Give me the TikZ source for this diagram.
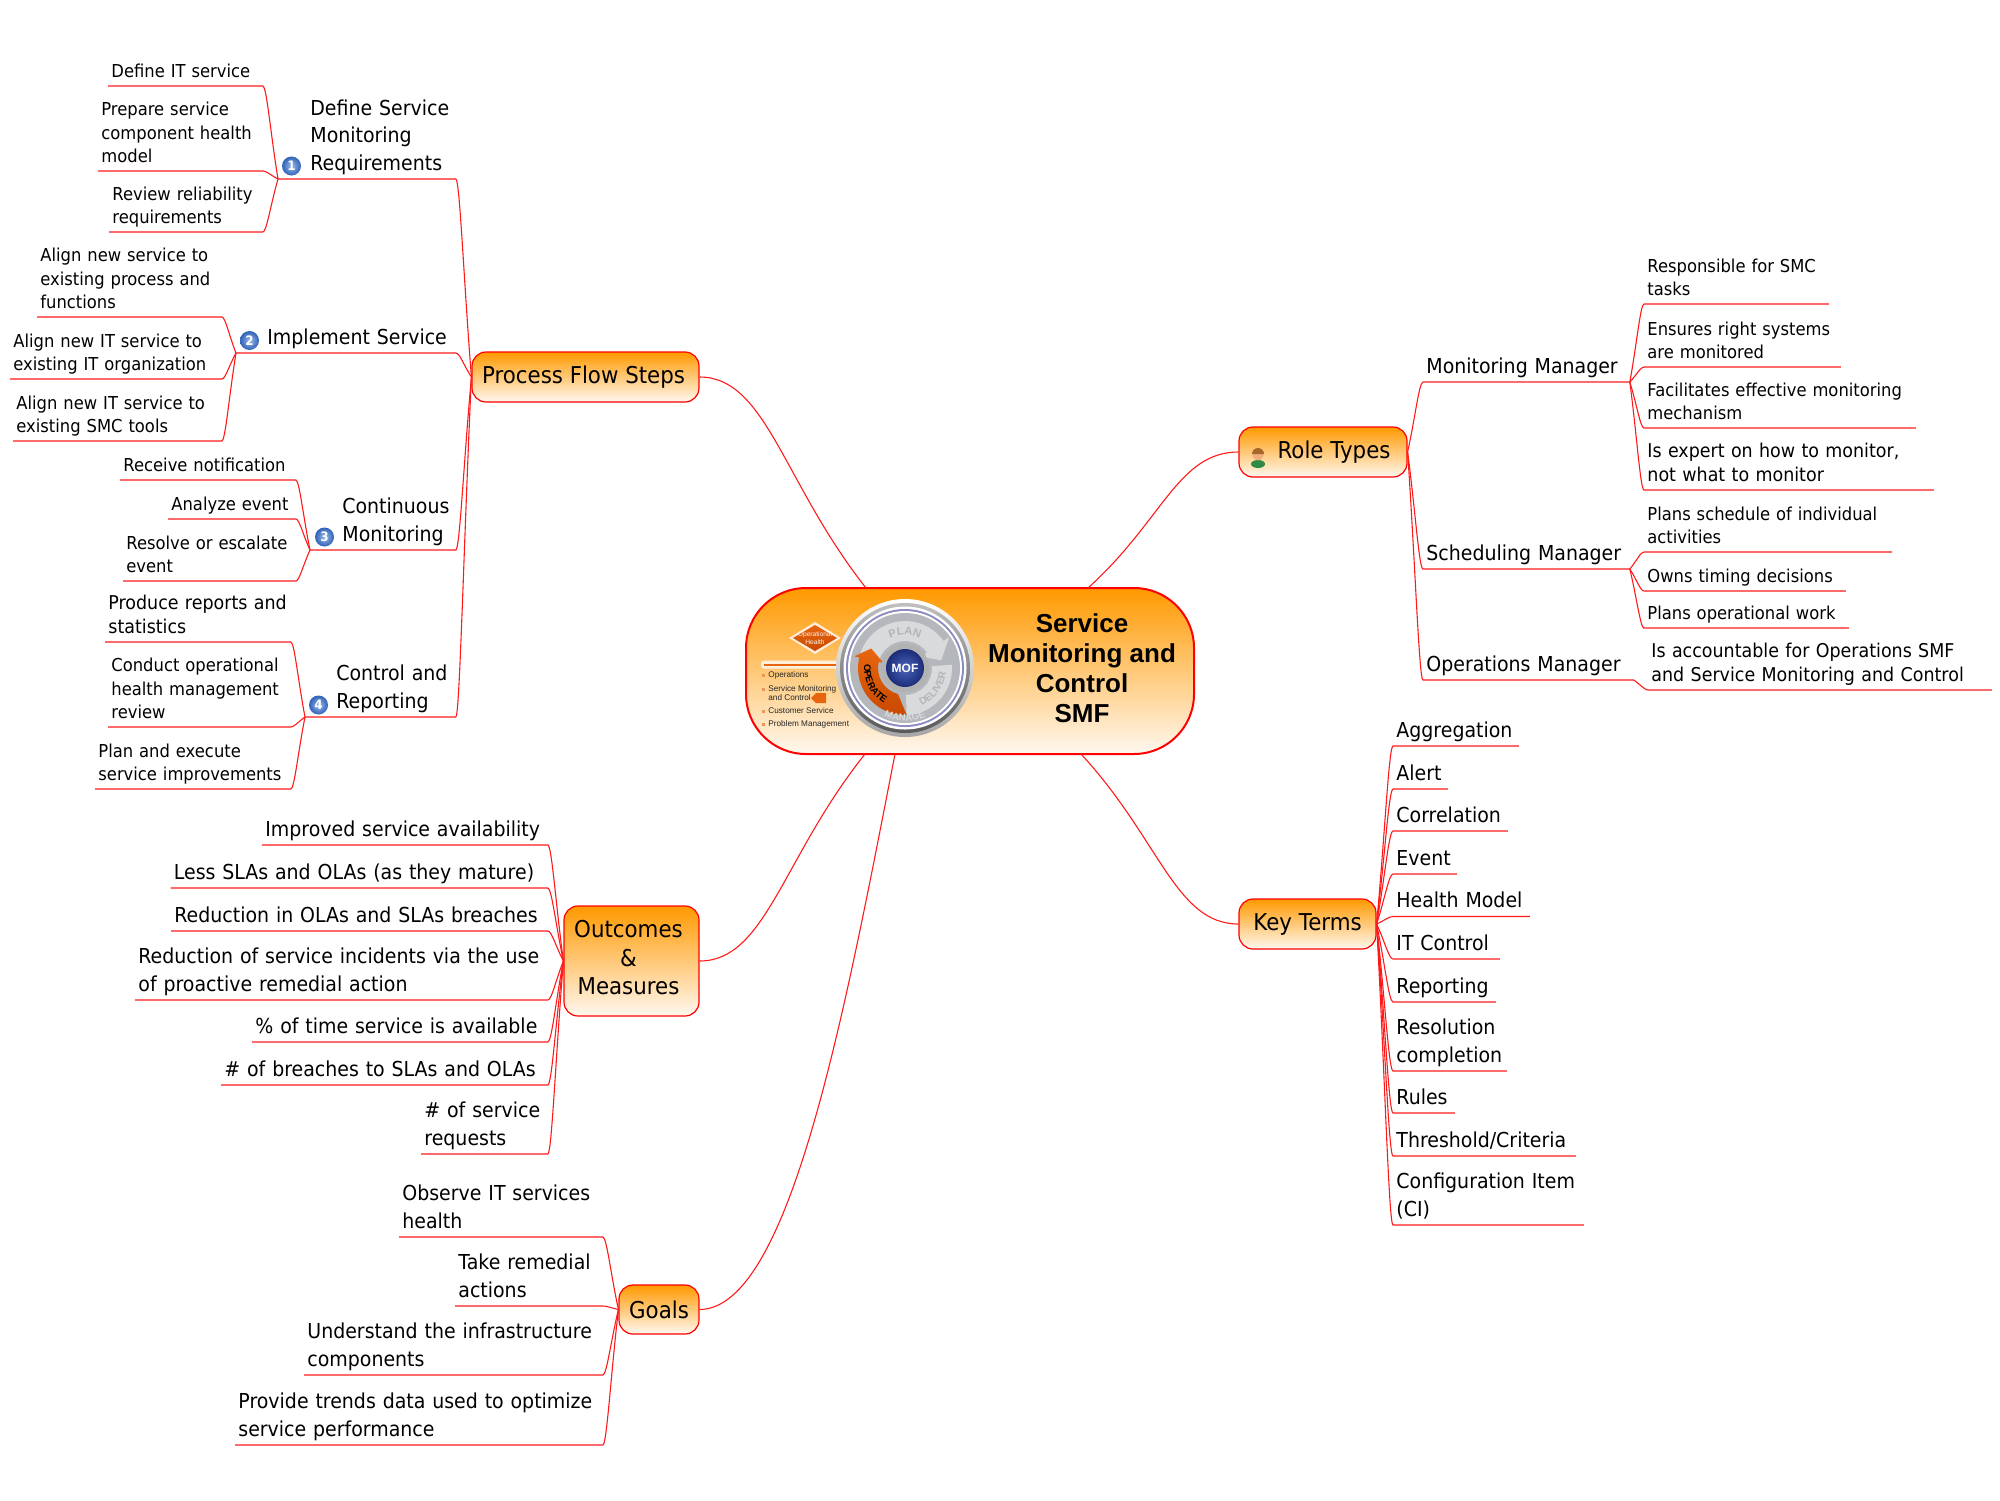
\documentclass[tikz,border=0pt]{standalone}
\usepackage{fontspec}
\usetikzlibrary{calc,decorations.text}
\setmainfont{DejaVu Sans}[FakeStretch=0.92]
\newfontfamily\titlefam{Liberation Sans}
\newcommand{\leaffont}{\fontsize{8.9}{11.6}\selectfont}
\newcommand{\bigleaffont}{\fontsize{9.5}{12}\selectfont}
\newcommand{\topicfont}{\fontsize{10.3}{13.65}\selectfont}
\newcommand{\boxfont}{\fontsize{11.6}{14.3}\selectfont}
\definecolor{Wire}{HTML}{FF1A1A}
\definecolor{BoxTop}{HTML}{FF9900}
\definecolor{BoxEnd}{HTML}{FFF8F0}
\definecolor{Badge}{HTML}{2F62B8}
\definecolor{BadgeLight}{HTML}{9DBBEA}
\definecolor{WheelGray}{HTML}{B4B7BB}
\definecolor{WheelLight}{HTML}{D9DADC}
\definecolor{WheelText}{HTML}{B2B5B8}
\definecolor{Flame}{HTML}{E8650F}
\definecolor{FlameDark}{HTML}{C84A00}
\definecolor{Mof}{HTML}{1C2C78}
\definecolor{MofLight}{HTML}{4A66BC}
\definecolor{Skin}{HTML}{EFAE7C}
\definecolor{Hair}{HTML}{A5662A}
\definecolor{Shirt}{HTML}{2E8B46}
\tikzset{
  topic/.style={anchor=south west,inner xsep=1.5pt,inner ysep=0pt,align=left,
    text width=#1*0.5pt-3pt,execute at end node={\rule[-4.2pt]{0pt}{0pt}}},
  leaf/.style={topic=#1,font=\leaffont},
  bigleaf/.style={topic=#1,font=\bigleaffont},
  head/.style={topic=#1,font=\topicfont},
  link/.style={Wire,line width=0.55pt},
  branch/.style={to path={.. controls ($(\tikztostart)!.5!(\tikztotarget)$) and ($(\tikztotarget)!.25!(\tikztotarget-|\tikztostart)$) .. (\tikztotarget)}},
  trunk/.style={to path={.. controls ($(\tikztostart)!.5!(\tikztotarget)$) and ($(\tikztotarget)!.4!(\tikztotarget-|\tikztostart)$) .. (\tikztotarget)}},
  mapbox/.style={draw=red,line width=0.6pt,rounded corners=7pt,top color=BoxTop,bottom color=BoxEnd,align=center,inner sep=0pt,font=\boxfont},
  badge/.style={circle,minimum size=9.5pt,inner sep=0pt,shading=radial,inner color=BadgeLight,outer color=Badge,text=white,font=\bfseries\fontsize{6.5}{7}\selectfont},
  wheelsmall/.style={anchor=west,align=left,inner sep=0pt,text=black!85,font=\titlefam\fontsize{4.1}{4.6}\selectfont}
}
\begin{document}
\begin{tikzpicture}[x=0.5pt,y=-0.5pt]
\useasboundingbox (0,0) rectangle (2000,1500);
\node[mapbox,rounded corners=30pt,line width=1pt,minimum width=224pt,minimum height=83pt] (smf) at (970,671) {};
\coordinate (smf-pf) at (866,588);
\coordinate (smf-rt) at (1088,588);
\coordinate (smf-kt) at (1081,754);
\coordinate (smf-om) at (865,754);
\coordinate (smf-gl) at (895,754);
\node[align=center,inner sep=0pt,font=\titlefam\bfseries\fontsize{13}{15}\selectfont] (title) at (1082,668) {Service\\Monitoring and\\Control\\SMF};
\node[mapbox,minimum width=113.5pt,minimum height=25pt] (process) at (585.5,377) {\hspace{-2pt}Process Flow Steps};
\node[mapbox,minimum width=84pt,minimum height=25pt] (role) at (1323,452) {\hspace{11pt}Role Types};
\node[mapbox,minimum width=67.5pt,minimum height=55pt] (outcomes) at (631.5,961) {\hspace{-3pt}Outcomes\\\hspace{-3pt}\&\\\hspace{-3pt}Measures\rule[-3.4pt]{0pt}{0pt}};
\node[mapbox,minimum width=40pt,minimum height=24.5pt] (goals) at (659,1309.5) {Goals};
\node[mapbox,minimum width=68.5pt,minimum height=25pt] (terms) at (1307.5,924) {Key Terms};
\draw[link] (smf-pf) to[trunk] (process.east);
\draw[link] (smf-rt) to[trunk] (role.west);
\draw[link] (smf-kt) to[trunk] (terms.west);
\draw[link] (smf-om) to[trunk] (outcomes.east);
\draw[link] (smf-gl) .. controls (845,1010) and (790,1309) .. (goals.east);
\node[head=148] (define) at (307,179) {Define Service\\Monitoring\\Requirements};
\coordinate (define-j) at (278,179);
\node[head=191] (implement) at (264,353) {Implement Service};
\coordinate (implement-j) at (236,353);
\node[head=116] (continuous) at (339,550) {Continuous\\Monitoring};
\coordinate (continuous-j) at (310,550);
\node[head=122] (control) at (333,717) {Control and\\Reporting};
\coordinate (control-j) at (305,717);
\node[badge] (one) at (291.5,166) {1};
\node[badge] (two) at (249.5,340.5) {2};
\node[badge] (three) at (324.5,537) {3};
\node[badge] (four) at (318.5,705) {4};
\draw[link] (process.west) to[branch] (define.south east) -- (define-j);
\draw[link] (process.west) to[branch] (implement.south east) -- (implement-j);
\draw[link] (process.west) to[branch] (continuous.south east) -- (continuous-j);
\draw[link] (process.west) to[branch] (control.south east) -- (control-j);
\node[leaf=154] (itservice) at (108,86) {Define IT service};
\node[leaf=164] (prepare) at (98,171) {Prepare service\\component health\\model};
\node[leaf=153] (review) at (109,232) {Review reliability\\requirements};
\draw[link] (define-j) to[branch] (itservice.south east) -- (itservice.south west);
\draw[link] (define-j) to[branch] (prepare.south east) -- (prepare.south west);
\draw[link] (define-j) to[branch] (review.south east) -- (review.south west);
\node[leaf=184] (alignnew) at (37,317) {Align new service to\\existing process and\\functions};
\node[leaf=211] (alignorg) at (10,379) {Align new IT service to\\existing IT organization};
\node[leaf=208] (aligntools) at (13,441) {Align new IT service to\\existing SMC tools};
\draw[link] (implement-j) to[branch] (alignnew.south east) -- (alignnew.south west);
\draw[link] (implement-j) to[branch] (alignorg.south east) -- (alignorg.south west);
\draw[link] (implement-j) to[branch] (aligntools.south east) -- (aligntools.south west);
\node[leaf=175] (receive) at (120,480) {Receive notification};
\node[leaf=127] (analyze) at (168,519) {Analyze event};
\node[leaf=172] (resolve) at (123,581) {Resolve or escalate\\event};
\draw[link] (continuous-j) to[branch] (receive.south east) -- (receive.south west);
\draw[link] (continuous-j) to[branch] (analyze.south east) -- (analyze.south west);
\draw[link] (continuous-j) to[branch] (resolve.south east) -- (resolve.south west);
\node[bigleaf=185] (produce) at (105,642) {Produce reports and\\statistics};
\node[leaf=182] (conduct) at (108,727) {Conduct operational\\health management\\review};
\node[leaf=195] (planexec) at (95,789) {Plan and execute\\service improvements};
\draw[link] (control-j) to[branch] (produce.south east) -- (produce.south west);
\draw[link] (control-j) to[branch] (conduct.south east) -- (conduct.south west);
\draw[link] (control-j) to[branch] (planexec.south east) -- (planexec.south west);
\node[head=285] (improved) at (262,845) {Improved service availability};
\node[head=376.5] (lessslas) at (170.5,888) {Less SLAs and OLAs (as they mature)};
\node[head=376] (reducola) at (171,931) {Reduction in OLAs and SLAs breaches};
\node[head=412] (reducinc) at (135,1000) {Reduction of service incidents via the use\\of proactive remedial action};
\node[head=295] (available) at (252,1042) {\% of time service is available};
\node[head=326] (breaches) at (221,1085) {\# of breaches to SLAs and OLAs};
\node[head=126] (requests) at (421,1154) {\# of service\\requests};
\draw[link] (outcomes.west) to[branch] (improved.south east) -- (improved.south west);
\draw[link] (outcomes.west) to[branch] (lessslas.south east) -- (lessslas.south west);
\draw[link] (outcomes.west) to[branch] (reducola.south east) -- (reducola.south west);
\draw[link] (outcomes.west) to[branch] (reducinc.south east) -- (reducinc.south west);
\draw[link] (outcomes.west) to[branch] (available.south east) -- (available.south west);
\draw[link] (outcomes.west) to[branch] (breaches.south east) -- (breaches.south west);
\draw[link] (outcomes.west) to[branch] (requests.south east) -- (requests.south west);
\node[head=203] (observe) at (399,1237) {Observe IT services\\health};
\node[head=147] (remedial) at (455,1306) {Take remedial\\actions};
\node[head=298] (understand) at (304,1375) {Understand the infrastructure\\components};
\node[head=367] (provide) at (235,1445) {Provide trends data used to optimize\\service performance};
\draw[link] (goals.west) to[branch] (observe.south east) -- (observe.south west);
\draw[link] (goals.west) to[branch] (remedial.south east) -- (remedial.south west);
\draw[link] (goals.west) to[branch] (understand.south east) -- (understand.south west);
\draw[link] (goals.west) to[branch] (provide.south east) -- (provide.south west);
\node[head=206] (monmgr) at (1423,382) {Monitoring Manager};
\node[head=206] (schedmgr) at (1423,569) {Scheduling Manager};
\node[head=210] (opsmgr) at (1423,680) {Operations Manager};
\draw[link] (role.east) to[branch] (monmgr.south west) -- (monmgr.south east);
\draw[link] (role.east) to[branch] (schedmgr.south west) -- (schedmgr.south east);
\draw[link] (role.east) to[branch] (opsmgr.south west) -- (opsmgr.south east);
\node[leaf=184] (responsible) at (1644,304) {Responsible for SMC\\tasks};
\node[leaf=196] (ensures) at (1644,367) {Ensures right systems\\are monitored};
\node[leaf=271] (facilitates) at (1644,428) {Facilitates effective monitoring\\mechanism};
\node[bigleaf=289] (expert) at (1644,490) {Is expert on how to monitor,\\not what to monitor};
\draw[link] (monmgr.south east) to[branch] (responsible.south west) -- (responsible.south east);
\draw[link] (monmgr.south east) to[branch] (ensures.south west) -- (ensures.south east);
\draw[link] (monmgr.south east) to[branch] (facilitates.south west) -- (facilitates.south east);
\draw[link] (monmgr.south east) to[branch] (expert.south west) -- (expert.south east);
\node[leaf=247] (schedule) at (1644,552) {Plans schedule of individual\\activities};
\node[leaf=201] (timing) at (1644,591) {Owns timing decisions};
\node[leaf=204] (operwork) at (1644,628) {Plans operational work};
\draw[link] (schedmgr.south east) to[branch] (schedule.south west) -- (schedule.south east);
\draw[link] (schedmgr.south east) to[branch] (timing.south west) -- (timing.south east);
\draw[link] (schedmgr.south east) to[branch] (operwork.south west) -- (operwork.south east);
\node[bigleaf=343] (accountable) at (1648,690) {Is accountable for Operations SMF\\and Service Monitoring and Control};
\draw[link] (opsmgr.south east) to[branch] (accountable.south west) -- (accountable.south east);
\node[head=125] (aggregation) at (1393,746) {Aggregation};
\node[head=54] (alert) at (1393,789) {Alert};
\node[head=114] (correlation) at (1393,831) {Correlation};
\node[head=63] (event) at (1393,874) {Event};
\node[head=136] (healthmodel) at (1393,916.5) {Health Model};
\node[head=106] (itcontrol) at (1393,959) {IT Control};
\node[head=102] (reporting) at (1393,1002) {Reporting};
\node[head=113] (resolution) at (1393,1071) {Resolution\\completion};
\node[head=61] (rules) at (1393,1113) {Rules};
\node[head=182] (threshold) at (1393,1156) {Threshold/Criteria};
\node[head=190] (config) at (1393,1225) {Configuration Item\\(CI)};
\draw[link] (terms.east) to[branch] (aggregation.south west) -- (aggregation.south east);
\draw[link] (terms.east) to[branch] (alert.south west) -- (alert.south east);
\draw[link] (terms.east) to[branch] (correlation.south west) -- (correlation.south east);
\draw[link] (terms.east) to[branch] (event.south west) -- (event.south east);
\draw[link] (terms.east) to[branch] (healthmodel.south west) -- (healthmodel.south east);
\draw[link] (terms.east) to[branch] (itcontrol.south west) -- (itcontrol.south east);
\draw[link] (terms.east) to[branch] (reporting.south west) -- (reporting.south east);
\draw[link] (terms.east) to[branch] (resolution.south west) -- (resolution.south east);
\draw[link] (terms.east) to[branch] (rules.south west) -- (rules.south east);
\draw[link] (terms.east) to[branch] (threshold.south west) -- (threshold.south east);
\draw[link] (terms.east) to[branch] (config.south west) -- (config.south east);
\fill[Shirt] (1258,464) ellipse (7 and 4);
\fill[Skin] (1258,455) circle (5.5);
\fill[Hair] (1252,454) arc (180:360:6 and 6) -- cycle;
\fill[white,opacity=.75,rounded corners=1.5pt] (761,660.5) rectangle (862,668.5);
\draw[Flame,line width=1pt] (764,664.5) -- (862,664.5);
\fill[white!85!orange] (789,638) -- (815,622) -- (841,638) -- (815,654) -- cycle;
\shade[top color=Flame,bottom color=FlameDark] (793,638) -- (815,625) -- (837,638) -- (815,651) -- cycle;
\node[align=center,inner sep=0pt,text=white!90!orange,font=\titlefam\fontsize{3.3}{4.3}\selectfont] (health) at (815,638) {Operational\\Health};
\fill[Flame!70] (762,673.5) rectangle (765,676.5);
\fill[Flame!70] (762,687.5) rectangle (765,690.5);
\fill[Flame!70] (762,709.5) rectangle (765,712.5);
\fill[Flame!70] (762,722.5) rectangle (765,725.5);
\node[wheelsmall] (operations) at (768,675) {Operations};
\node[wheelsmall] (svcmon) at (768,693) {Service Monitoring\\and Control};
\node[wheelsmall] (custsvc) at (768,711) {Customer Service};
\node[wheelsmall] (probmgmt) at (768,724) {Problem Management};
\fill[Flame] (811,698) -- (816,693) -- (826,693) -- (826,703) -- (816,703) -- cycle;
\begin{scope}[shift={(905,668)},y=0.5pt]
\shade[top color=white,bottom color=black!35] (0,0) circle (69);
\shade[top color=black!25,bottom color=black!65] (0,0) circle (65);
\fill[white] (0,0) circle (61.5);
\fill[blue!45!black!45!white] (0,0) circle (59);
\fill[white] (0,0) circle (57);
\fill[WheelGray] (0,0) circle (55);
\fill[WheelLight] (165:47) arc[start angle=165,end angle=35,radius=47] -- (35:54) -- (12:37) -- (35:20) -- (35:27) arc[start angle=35,end angle=165,radius=27] -- cycle;
\fill[WheelLight] (4:47) arc[start angle=4,end angle=-88,radius=47] -- (-88:27) arc[start angle=-88,end angle=4,radius=27] -- cycle;
\shade[top color=Flame,bottom color=FlameDark] (-88:47) arc[start angle=-88,end angle=-193,radius=47] -- (167:52) -- (150:39) -- (167:22) -- (167:27) arc[start angle=167,end angle=255,radius=27] -- cycle;
\path[decorate,decoration={text along path,text color=WheelText,text align=center,text={|\titlefam\bfseries\fontsize{5.6}{6}\selectfont|PLAN}}] (125:33) arc[start angle=125,end angle=55,radius=33];
\path[decorate,decoration={text along path,text color=WheelText,text align=center,text={|\titlefam\bfseries\fontsize{5}{6}\selectfont|DELIVER}}] (-84:41) arc[start angle=-84,end angle=12,radius=41];
\path[decorate,decoration={text along path,text color=WheelLight,text align=center,text={|\titlefam\bfseries\fontsize{4.8}{6}\selectfont|MANAGE}}] (230:53) arc[start angle=230,end angle=310,radius=53];
\path[decorate,decoration={text along path,text color=black,text align=center,text={|\titlefam\bfseries\fontsize{4.8}{6}\selectfont|OPERATE}}] (152:41) arc[start angle=152,end angle=262,radius=41];
\fill[black!30] (0,0) circle (24);
\shade[inner color=MofLight,outer color=Mof] (0,0) circle (19);
\node[inner sep=0pt,text=white,font=\titlefam\bfseries\fontsize{6}{7}\selectfont] (mof) at (0,0) {MOF};
\end{scope}
\end{tikzpicture}
\end{document}
